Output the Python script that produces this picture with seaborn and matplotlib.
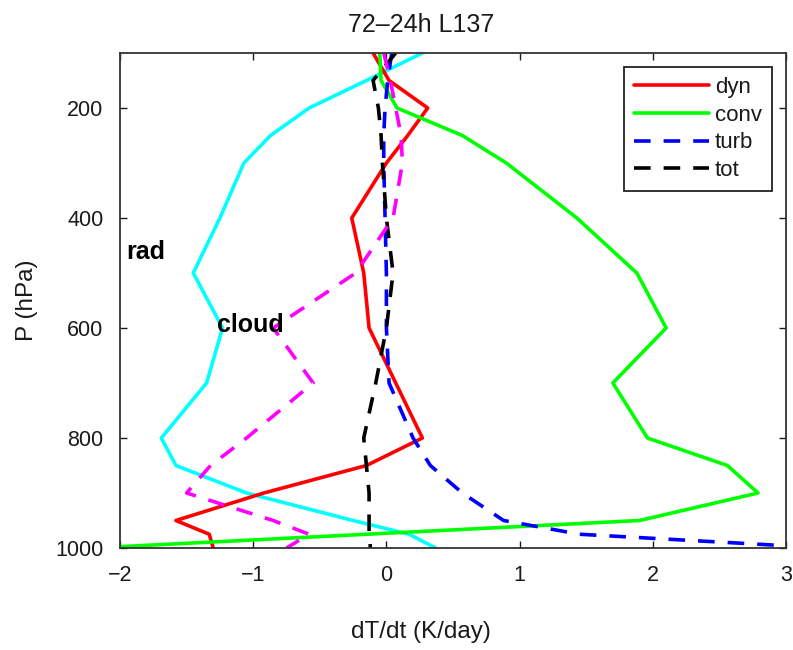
import matplotlib
matplotlib.use("Agg")
import matplotlib.pyplot as plt
import seaborn as sns
import pandas as pd

# Pressure levels (hPa) and heating-rate tendencies (K/day)
levels = [100, 150, 200, 250, 300, 400, 500, 600, 700, 800, 850, 900, 950, 975, 1000]
dyn = [-0.10, 0.02, 0.31, 0.16, 0.00, -0.26, -0.17, -0.13, 0.07, 0.27, -0.15, -0.92, -1.58, -1.33, -1.30]
conv = [-0.05, -0.04, 0.08, 0.57, 0.90, 1.43, 1.88, 2.10, 1.70, 1.96, 2.56, 2.79, 1.90, -0.15, -2.20]
turb = [0.04, 0.01, -0.01, -0.02, -0.02, -0.01, 0.00, 0.00, 0.02, 0.20, 0.33, 0.57, 0.88, 1.45, 3.30]
tot = [0.07, -0.10, -0.06, -0.04, -0.03, 0.00, 0.05, 0.00, -0.08, -0.17, -0.15, -0.13, -0.13, -0.13, -0.12]
rad = [0.27, -0.15, -0.58, -0.87, -1.07, -1.25, -1.45, -1.23, -1.35, -1.69, -1.58, -1.05, -0.25, 0.17, 0.37]
cloud = [-0.02, 0.03, 0.07, 0.11, 0.12, 0.05, -0.23, -0.85, -0.55, -1.05, -1.32, -1.50, -0.85, -0.58, -0.75]

x_ticks = [-2, -1, 0, 1, 2, 3]
x_tick_labels = ["\u22122", "\u22121", "0", "1", "2", "3"]
y_ticks = [200, 400, 600, 800, 1000]

sns.set_theme(style="ticks")
plt.rcParams["font.family"] = ["Liberation Sans", "DejaVu Sans"]
ink = "#1a1a1a"

fig = plt.figure(figsize=(7.93, 6.5), dpi=100)
ax = fig.add_axes([120 / 793, 1 - 548 / 650, (786 - 120) / 793, (548 - 53) / 650])

dash = (0, (4.6, 3.6))
series = [
    ("rad", rad, "#00ffff", "-"),
    ("dyn", dyn, "#ff0000", "-"),
    ("conv", conv, "#00ff00", "-"),
    ("turb", turb, "#0000ff", dash),
    ("tot", tot, "#000000", dash),
    ("cloud", cloud, "#ff00ff", dash),
]

handles = {}
for name, vals, color, ls in series:
    df = pd.DataFrame({"dTdt": vals, "p": levels})
    sns.lineplot(data=df, x="dTdt", y="p", sort=False, estimator=None,
                 color=color, linestyle=ls, linewidth=2.6, ax=ax)
    handles[name] = ax.lines[-1]

ax.set_xlim(-2, 3)
ax.set_ylim(1000, 100)
ax.set_xticks(x_ticks)
ax.set_xticklabels(x_tick_labels)
ax.set_yticks(y_ticks)
ax.tick_params(direction="in", length=5, width=1, top=True, right=True,
               labelsize=15.5, pad=12, colors=ink)
for s in ax.spines.values():
    s.set_linewidth(1.3)
    s.set_color("#333333")

ax.set_xlabel("dT/dt (K/day)", fontsize=17.5, color=ink, va="center")
ax.set_ylabel("P (hPa)", fontsize=17.5, color=ink, va="center")
ax.xaxis.set_label_coords((421 - 120) / (786 - 120), -(632 - 548) / (548 - 53))
ax.yaxis.set_label_coords(-(120 - 27) / (786 - 120), 0.5)

fig.text(421 / 793, 1 - 25 / 650, "72\u201324h L137", ha="center", va="center",
         fontsize=18, color=ink)

ax.text(-1.95, 461, "rad", fontsize=18, fontweight="bold", color="black",
        va="center", ha="left")
ax.text(-1.27, 595, "cloud", fontsize=18, fontweight="bold", color="black",
        va="center", ha="left")

leg = ax.legend([handles[k] for k in ["dyn", "conv", "turb", "tot"]],
                ["dyn", "conv", "turb", "tot"],
                loc="upper right", bbox_to_anchor=(772 / 793, 1 - 67 / 650),
                bbox_transform=fig.transFigure,
                fancybox=False, framealpha=1, edgecolor="#222222",
                fontsize=16, handlelength=3.4, handletextpad=0.25,
                labelspacing=0.3, borderpad=0.45, borderaxespad=0)
leg.get_frame().set_linewidth(1.3)
for t in leg.get_texts():
    t.set_color(ink)

fig.savefig("out.png", dpi=100)
